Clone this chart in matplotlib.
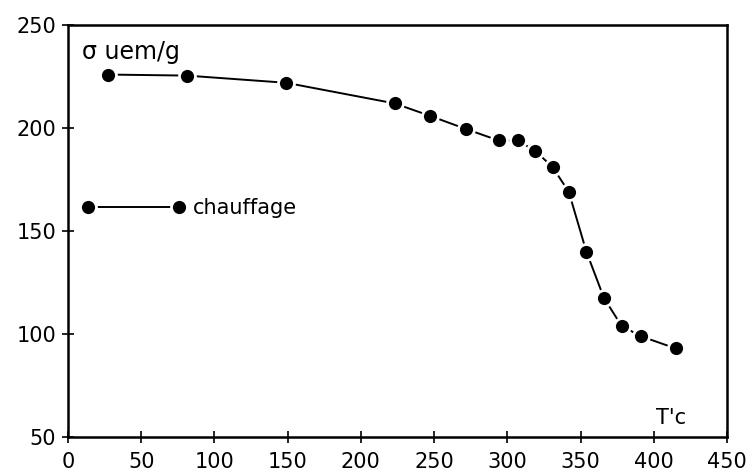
import matplotlib
matplotlib.use("Agg")
import matplotlib.pyplot as plt

# aimantation vs temperature (chauffage)
temp = [27, 81, 149, 223, 247, 272, 294, 307, 319, 331, 342, 354, 366, 378, 391, 415]
sigma = [226, 225.5, 222, 212, 206, 199.5, 194, 194, 189, 181, 169, 140, 117.5, 104, 99, 93]

x_ticks = [0, 50, 100, 150, 200, 250, 300, 350, 400, 450]
y_ticks = [50, 100, 150, 200, 250]

plt.rcParams['font.family'] = ['DejaVu Sans']

fig = plt.figure(figsize=(7.51, 4.74), dpi=100)
ax = fig.add_axes([0.0905, 0.078, 0.8775, 0.869])

ax.plot(temp, sigma, color='black', lw=1.4, marker='o', markersize=11.5,
        markerfacecolor='black', markeredgecolor='white', markeredgewidth=2.0,
        label='chauffage')

ax.set_xlim(0, 450)
ax.set_ylim(50, 250)
ax.set_xticks(x_ticks)
ax.set_yticks(y_ticks)
ax.tick_params(direction='inout', length=9, width=1.2, labelsize=15,
               colors='black')
ax.tick_params(axis='x', pad=6)
ax.tick_params(axis='y', pad=4)
for s in ax.spines.values():
    s.set_linewidth(1.8)

ax.text(0.022, 0.935, 'σ uem/g', transform=ax.transAxes, fontsize=17,
        va='center', ha='left')
ax.text(0.893, 0.045, "T'c", transform=ax.transAxes, fontsize=15,
        va='center', ha='left')

ax.legend(loc='center left', bbox_to_anchor=(-0.008, 0.555), numpoints=2,
          handlelength=5.0, fontsize=15, frameon=False, handletextpad=0.35)

fig.savefig('out.png', dpi=100)
